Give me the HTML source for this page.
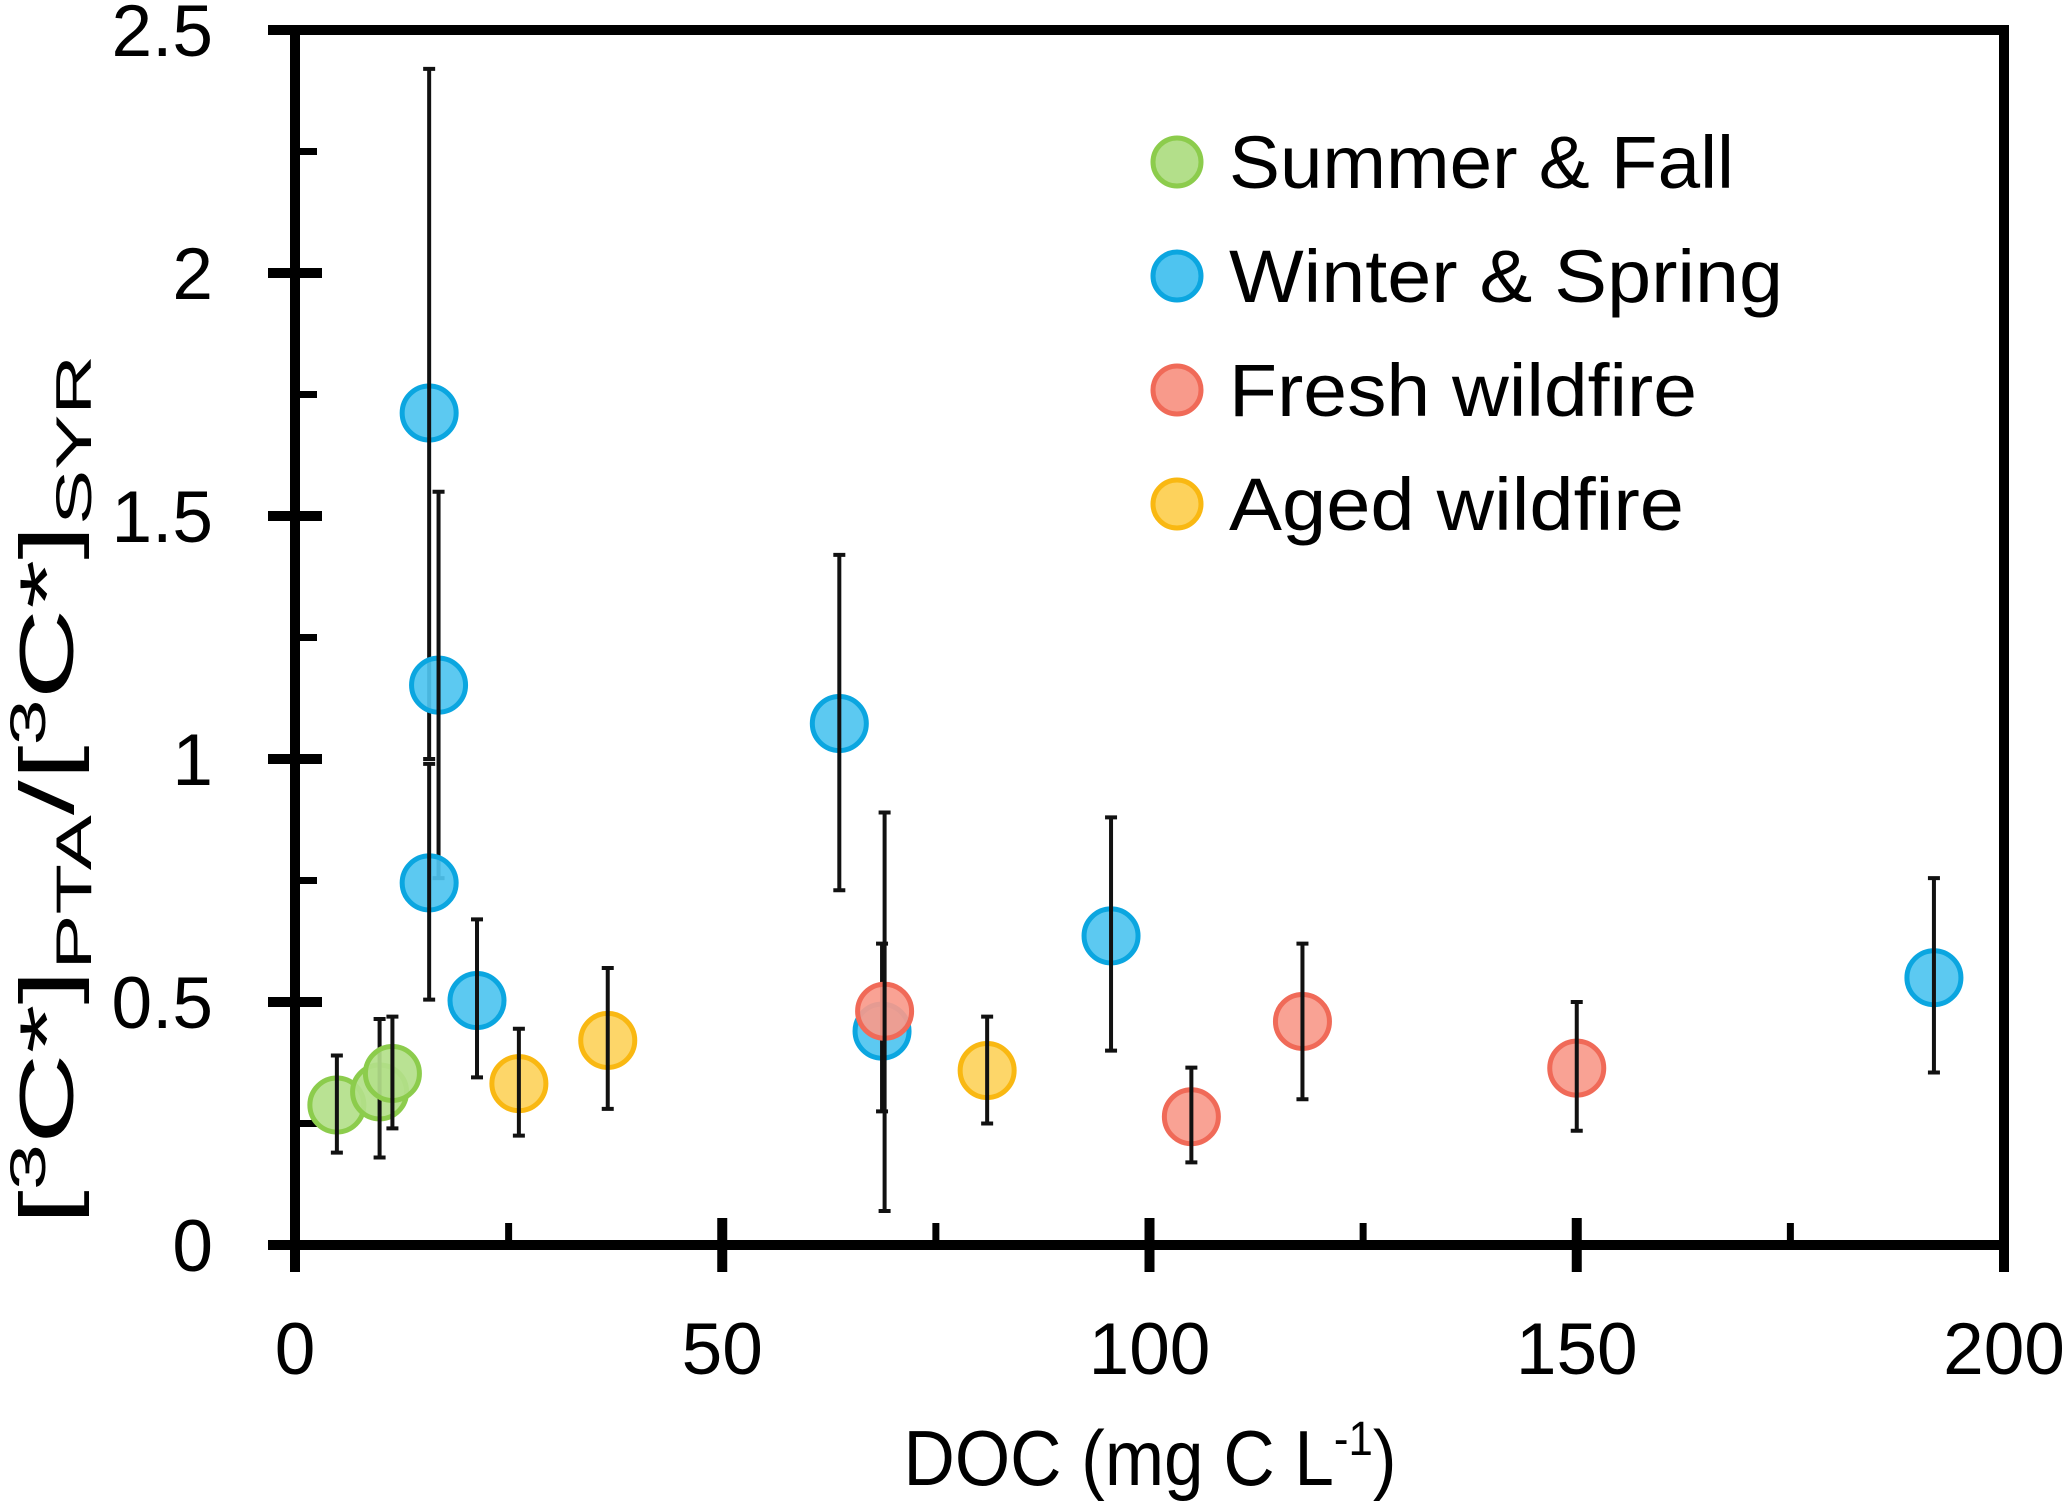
<!DOCTYPE html>
<html><head><meta charset="utf-8"><style>
html,body{margin:0;padding:0;background:#fff}
svg{display:block}
text{font-family:"Liberation Sans",sans-serif;fill:#000}
</style></head><body>
<svg id="chart" width="2067" height="1512" viewBox="0 0 2067 1512" xmlns="http://www.w3.org/2000/svg">
<g id="axes"></g>
<g id="marks"></g>
<g id="legend"></g>
<text x="1150" y="1485" font-size="78" text-anchor="middle" textLength="493" lengthAdjust="spacingAndGlyphs">DOC (mg C L<tspan dy="-30" font-size="48">-1</tspan><tspan dy="30">)</tspan></text>
<text transform="translate(73,790) rotate(-90)" font-size="76" text-anchor="middle" textLength="870" lengthAdjust="spacingAndGlyphs">[<tspan dy="-28" font-size="50">3</tspan><tspan dy="28">C*]</tspan><tspan dy="18" font-size="50">PTA</tspan><tspan dy="-18">/[</tspan><tspan dy="-28" font-size="50">3</tspan><tspan dy="28">C*]</tspan><tspan dy="18" font-size="50">SYR</tspan></text>
</svg>
<script>
const xTicks=[0,50,100,150,200];
const yTicks=[0,0.5,1,1.5,2,2.5];
const yTickLabels=["0","0.5","1","1.5","2","2.5"];
const seriesNames=["Summer & Fall","Winter & Spring","Fresh wildfire","Aged wildfire"];
const summerX=[4.9,9.9,11.4];
const summerY=[0.288,0.315,0.353];
const summerLo=[0.19,0.18,0.24];
const summerHi=[0.39,0.465,0.47];
const winterX=[15.7,16.8,15.7,21.3,63.7,68.7,95.5,191.8];
const winterY=[1.712,1.152,0.745,0.503,1.073,0.44,0.636,0.55];
const winterLo=[1.0,0.755,0.505,0.345,0.73,0.275,0.40,0.355];
const winterHi=[2.42,1.55,0.99,0.67,1.42,0.62,0.88,0.755];
const freshX=[69.0,104.9,117.9,150];
const freshY=[0.481,0.264,0.46,0.364];
const freshLo=[0.07,0.17,0.30,0.235];
const freshHi=[0.89,0.365,0.62,0.50];
const agedX=[26.2,36.6,81.0];
const agedY=[0.332,0.421,0.359];
const agedLo=[0.225,0.28,0.25];
const agedHi=[0.445,0.57,0.47];

const NS="http://www.w3.org/2000/svg";
const X0=295,X1=2004,Y0=1245,Y1=30;
function sx(v){return X0+(v-0)/(200-0)*(X1-X0);}
function sy(v){return Y0-(v-0)/(2.5-0)*(Y0-Y1);}
function mk(parent,tag,attrs){const e=document.createElementNS(NS,tag);for(const k in attrs)e.setAttribute(k,attrs[k]);parent.appendChild(e);return e;}
const axes=document.getElementById('axes');
const marks=document.getElementById('marks');
const legend=document.getElementById('legend');

let frame=mk(axes,'rect',{x:X0,y:Y1,width:X1-X0,height:Y0-Y1,fill:'none',stroke:'#000','stroke-width':10});


yTicks.forEach((v,i)=>{
  let t=mk(axes,'line',{x1:X0-27,x2:X0+27,y1:sy(v),y2:sy(v),stroke:'#000','stroke-width':10});
  
  
  if(i<yTicks.length-1){
    let m=mk(axes,'line',{x1:X0,x2:X0+22,y1:sy(v+0.25),y2:sy(v+0.25),stroke:'#000','stroke-width':7});
    
    
  }
  let l=mk(axes,'text',{x:213,y:sy(v)+26,'font-size':73,'text-anchor':'end'});
  l.textContent=yTickLabels[i];
  
  
});
xTicks.forEach((v,i)=>{
  let t=mk(axes,'line',{x1:sx(v),x2:sx(v),y1:Y0-27,y2:Y0+27,stroke:'#000','stroke-width':10});
  
  
  if(i<xTicks.length-1){
    let m=mk(axes,'line',{x1:sx(v+25),x2:sx(v+25),y1:Y0,y2:Y0-22,stroke:'#000','stroke-width':7});
    
    
  }
  let l=mk(axes,'text',{x:sx(v),y:1374,'font-size':73,'text-anchor':'middle'});
  l.textContent=String(v);
  
  
});

const series=[
  {x:summerX,y:summerY,lo:summerLo,hi:summerHi,fill:'#b3df8a',stroke:'#8ccc4c',name:'summer-fall'},
  {x:winterX,y:winterY,lo:winterLo,hi:winterHi,fill:'#4ec4f0',stroke:'#0ba6e0',name:'winter-spring'},
  {x:freshX,y:freshY,lo:freshLo,hi:freshHi,fill:'#f89a8b',stroke:'#f06a58',name:'fresh-wildfire'},
  {x:agedX,y:agedY,lo:agedLo,hi:agedHi,fill:'#fdd25c',stroke:'#f9b812',name:'aged-wildfire'}
];
series.forEach(s=>{
  s.x.forEach((xv,i)=>{
    const g=mk(marks,'g',{});
    
    
    const c=mk(g,'circle',{cx:sx(xv),cy:sy(s.y[i]),r:27,fill:s.fill,stroke:s.stroke,'stroke-width':5,'fill-opacity':0.92});
    
    
    const cx=sx(xv);
    const e=mk(g,'path',{d:`M${cx},${sy(s.lo[i])}V${sy(s.hi[i])}M${cx-6},${sy(s.lo[i])}H${cx+6}M${cx-6},${sy(s.hi[i])}H${cx+6}`,stroke:'#111','stroke-width':4,fill:'none'});
    
    
  });
});
const legY=[162,276,390,504];
const legW=[505,554,468,455];
series.forEach((s,i)=>{
  const c=mk(legend,'circle',{cx:1177,cy:legY[i],r:24,fill:s.fill,stroke:s.stroke,'stroke-width':5});
  
  
  const t=mk(legend,'text',{x:1229,y:legY[i]+26,'font-size':74,textLength:legW[i],lengthAdjust:'spacingAndGlyphs'});
  t.textContent=seriesNames[i];
  
  
});
</script>
</body></html>
